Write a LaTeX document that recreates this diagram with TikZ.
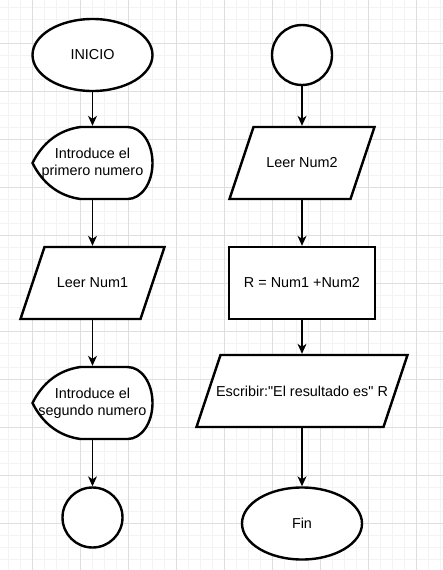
\documentclass[tikz,border=0pt]{standalone}
\usepackage{fontspec}
\setmainfont{Liberation Sans}[Ligatures=TeXOff]
\usetikzlibrary{shapes.geometric,arrows.meta}

\definecolor{gridminor}{HTML}{F3F3F3}
\definecolor{gridmajor}{HTML}{DEDEDE}

\pgfdeclarelayer{gridlayer}
\pgfdeclarelayer{outlinelayer}
\pgfsetlayers{gridlayer,outlinelayer,main}

\begin{document}
\begin{tikzpicture}[x=1pt,y=-1pt,
  font=\fontsize{14.4pt}{17.3pt}\selectfont,
  shapeline/.style={draw=black,line width=2.4pt,fill=white},
  terminal/.style={ellipse,shapeline,minimum width=120pt,minimum height=72pt,inner sep=0pt,outer sep=0pt},
  connector/.style={circle,shapeline,minimum size=60pt,inner sep=0pt,outer sep=0pt},
  process/.style={rectangle,shapeline,minimum width=144pt,minimum height=72pt,inner sep=0pt,outer sep=0pt},
  iobox/.style={rectangle,minimum height=72pt,inner sep=0pt,outer sep=0pt},
  displaybox/.style={rectangle,minimum width=120pt,minimum height=72pt,inner sep=0pt,outer sep=0pt,align=center},
  flow/.style={line width=1.2pt,shorten >=1.2pt,-{Stealth[length=10pt,width=9pt,inset=3pt]}},
  minorgrid/.style={line width=1pt,gridminor},
  majorgrid/.style={line width=1pt,gridmajor}]

\useasboundingbox (0,0) rectangle (443,570);

% grid
\begin{pgfonlayer}{gridlayer}
\fill[white] (0,0) rectangle (443,570);
\foreach \x in {8.3,20.3,...,443} \draw[minorgrid] (\x,0) -- (\x,570);
\foreach \y in {7,19,...,570} \draw[minorgrid] (0,\y) -- (443,\y);
\foreach \x in {32.3,80.3,...,443} \draw[majorgrid] (\x,0) -- (\x,570);
\foreach \y in {43,91,...,570} \draw[majorgrid] (0,\y) -- (443,\y);
\end{pgfonlayer}

% left column
\node[terminal] (inicio) at (92.5,55) {INICIO};
\node[displaybox] (intro1) at (92.5,163) {Introduce el\\primero numero};
\node[iobox,minimum width=144pt] (leer1) at (92.5,283) {Leer Num1};
\node[displaybox] (intro2) at (92.5,403) {Introduce el\\segundo numero};
\node[connector] (con1) at (92.5,517.5) {};

% right column
\node[connector] (con2) at (302,55) {};
\node[iobox,minimum width=145pt] (leer2) at (302,163) {Leer Num2};
\node[process,minimum width=146pt] (calc) at (302,283) {R = Num1 +Num2};
\node[iobox,minimum width=211pt] (escribir) at (302,391) {Escribir:"El resultado es" R};
\node[terminal] (fin) at (302,523.5) {Fin};

\begin{pgfonlayer}{outlinelayer}
\foreach \n in {intro1,intro2}
  \draw[shapeline] (\n.west) .. controls +(10,-20) and +(-22,3) .. ([xshift=48pt]\n.north west)
    -- ([xshift=-25pt]\n.north east) .. controls +(14,0) and +(0,-20) .. (\n.east)
    .. controls +(0,20) and +(14,0) .. ([xshift=-25pt]\n.south east)
    -- ([xshift=48pt]\n.south west) .. controls +(-22,-3) and +(10,20) .. (\n.west) -- cycle;
\foreach \n in {leer1,leer2,escribir}
  \draw[shapeline] ([xshift=24pt]\n.north west) -- (\n.north east)
    -- ([xshift=-24pt]\n.south east) -- (\n.south west) -- cycle;
\end{pgfonlayer}

\draw[flow] (inicio) -- (intro1);
\draw[flow] (intro1) -- (leer1);
\draw[flow] (leer1) -- (intro2);
\draw[flow] (intro2) -- (con1);

\draw[flow] (con2) -- (leer2);
\draw[flow] (leer2) -- (calc);
\draw[flow] (calc) -- (escribir);
\draw[flow] (escribir) -- (fin);

\end{tikzpicture}
\end{document}
